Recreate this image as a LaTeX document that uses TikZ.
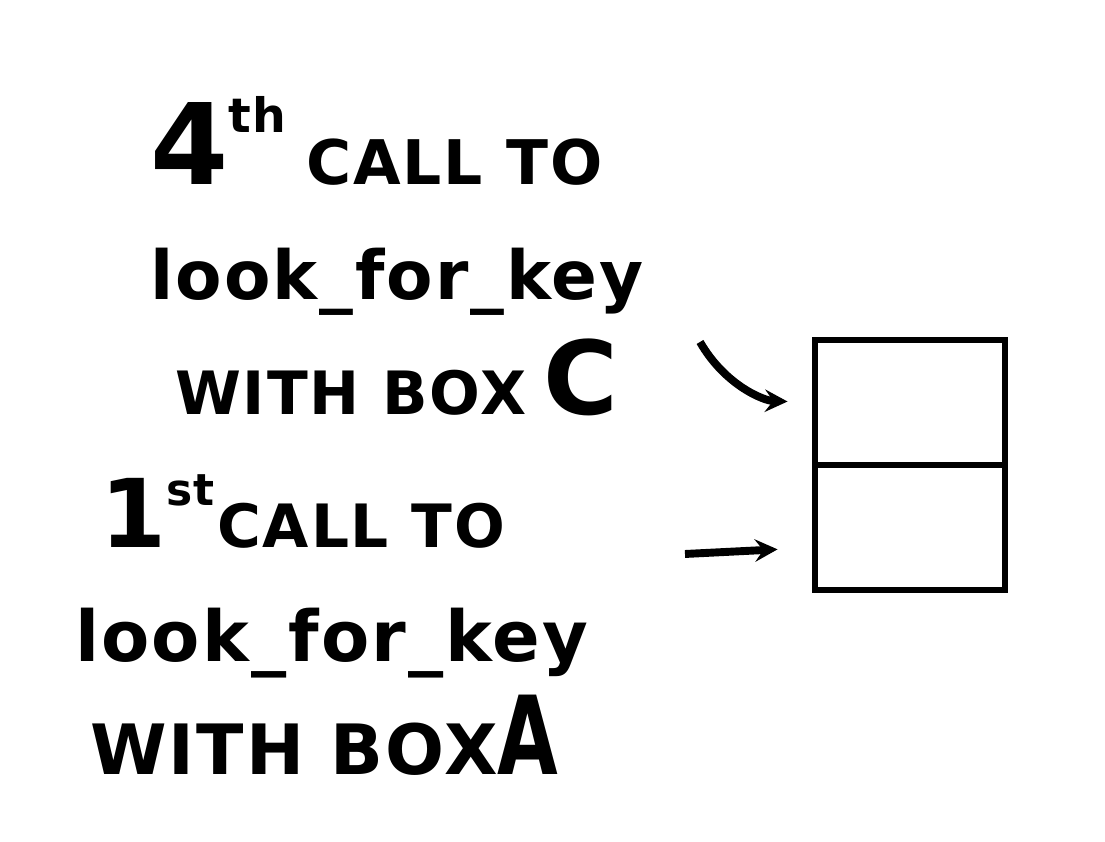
\documentclass[tikz,border=0pt]{standalone}
\usepackage{fontspec}
\setmainfont{DejaVu Sans}
\newfontfamily\hand[LetterSpace=3]{DejaVu Sans Bold}
\usetikzlibrary{positioning, arrows}
\tikzstyle{arrow} = [line width=4.5pt,->,>=stealth]
\tikzstyle{cell} = [rectangle, draw, line width=3.5pt, minimum width=3.8cm, minimum height=2.5cm, outer sep=0pt]
\tikzstyle{words} = [anchor=base west, inner sep=0pt, font=\hand]

\begin{document}
\begin{tikzpicture}
\useasboundingbox (0,0) rectangle (22.1,16.84);

\node [words] (call4) at (3.0,13.14) {\fontsize{64}{64}\selectfont 4\raisebox{1.05cm}{\fontsize{27}{27}\selectfont th}\hspace{0.4cm}\fontsize{35}{35}\selectfont CALL TO};
\node [words] (look4) at (3.0,10.84) {\fontsize{38.5}{38.5}\selectfont look\_for\_key};
\node [words] (with4) at (3.5,8.54) {\fontsize{34}{34}\selectfont WITH BOX\hspace{0.35cm}\fontsize{58}{58}\selectfont C};

\node [words] (call1) at (2.0,5.88) {\fontsize{54}{54}\selectfont 1\raisebox{0.85cm}{\fontsize{25}{25}\selectfont st}\hspace{0.05cm}\fontsize{34}{34}\selectfont CALL TO};
\node [words] (look1) at (1.5,3.6) {\fontsize{40}{40}\selectfont look\_for\_key};
\node [words] (with1) at (1.8,1.34) {\fontsize{39.5}{39.5}\selectfont WITH BOX\fontsize{62}{62}\selectfont\scalebox{0.72}[1]{A}};

\node [cell] (boxC) at (18.2,8.79) {};
\node [cell] (boxA) [below=0pt of boxC] {};

\coordinate (hookC) at (14.0,10.0);
\coordinate (tailA) at (13.7,5.76);

\draw [arrow, shorten >=0.55cm] (hookC) to [out=-60,in=178] (boxC.west);
\draw [arrow, shorten >=0.75cm] (tailA) to ([yshift=-0.4cm]boxA.west);
\end{tikzpicture}
\end{document}
